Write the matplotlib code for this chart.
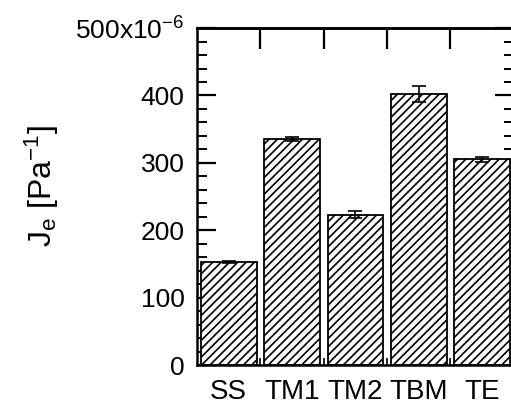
import matplotlib
matplotlib.use("Agg")
import matplotlib.pyplot as plt
from matplotlib.ticker import MultipleLocator, FixedLocator

plt.rcParams['font.family'] = ['Liberation Sans', 'DejaVu Sans']
plt.rcParams['mathtext.fontset'] = 'custom'
plt.rcParams['mathtext.rm'] = 'Liberation Sans'
plt.rcParams['mathtext.it'] = 'Liberation Sans'
plt.rcParams['mathtext.default'] = 'regular'
plt.rcParams['hatch.linewidth'] = 1.2

# Steady-state compliance J_e in units of 1e-6 Pa^-1
categories = ['SS', 'TM1', 'TM2', 'TBM', 'TE']
je_values = [153, 335, 223, 402, 305]
je_errors = [2, 3, 5, 12, 3]
ytick_values = [0, 100, 200, 300, 400, 500]
ytick_labels = ['0', '100', '200', '300', '400', '500x10$^{-6}$']

fig = plt.figure(figsize=(5.11, 4.04), dpi=100)
ax = fig.add_axes([0.3855, 0.0965, 0.62, 0.834])

x = [i + 0.5 for i in range(len(categories))]
boundaries = list(range(1, len(categories)))
ax.bar(x, je_values, width=0.88, color='white', edgecolor='black',
       linewidth=1.3, hatch='////', zorder=2)
ax.errorbar(x, je_values, yerr=je_errors, fmt='none', ecolor='black',
            elinewidth=1.2, capsize=5, capthick=1.2, zorder=3)

ax.set_xlim(0, len(categories))
ax.set_ylim(0, 500)

ax.yaxis.set_major_locator(FixedLocator(ytick_values))
ax.set_yticklabels(ytick_labels)
ax.yaxis.set_minor_locator(MultipleLocator(20))

ax.xaxis.set_major_locator(FixedLocator(x))
ax.set_xticklabels(categories)
ax.xaxis.set_minor_locator(FixedLocator(boundaries))

ax.tick_params(axis='y', which='major', direction='in', length=14, width=1.6,
               left=True, right=True, labelsize=19, pad=9)
ax.tick_params(axis='y', which='minor', direction='in', length=7, width=1.4,
               left=True, right=True)
ax.tick_params(axis='x', which='major', length=0, labelsize=20, pad=10)
ax.tick_params(axis='x', which='minor', direction='in', length=5, width=1.2,
               top=False, bottom=True)

# long inward ticks between categories along the top edge
top = ax.secondary_xaxis('top')
top.xaxis.set_major_locator(FixedLocator(boundaries))
top.tick_params(axis='x', which='major', direction='in', length=15, width=1.6,
                labeltop=False)
top.spines['top'].set_linewidth(1.8)

for s in ax.spines.values():
    s.set_linewidth(1.8)

ax.set_ylabel('J$_e$ [Pa$^{-1}$]', fontsize=23)
ax.yaxis.set_label_coords(-0.43, 0.53)

fig.savefig('out.png', dpi=100)
